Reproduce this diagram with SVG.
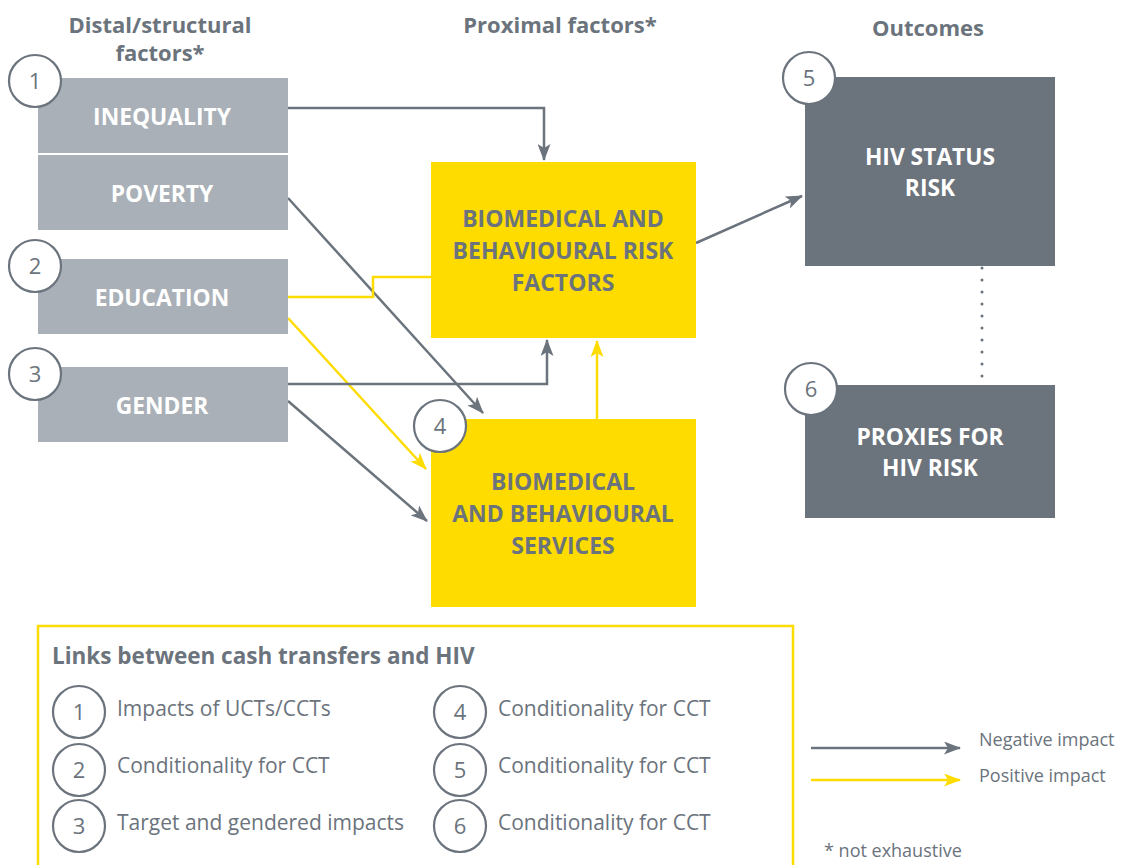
<svg xmlns="http://www.w3.org/2000/svg" width="1126" height="865" viewBox="0 0 1126 865">
<style>
.hdr{font-family:"Open Sans","Liberation Sans",sans-serif;font-weight:bold;font-size:22px;fill:#6b737c;text-anchor:middle}
.lbw{font-family:"Open Sans","Liberation Sans",sans-serif;font-weight:bold;font-size:22.8px;fill:#ffffff;text-anchor:middle}
.lbg{font-family:"Open Sans","Liberation Sans",sans-serif;font-weight:bold;font-size:23px;fill:#6b737c;text-anchor:middle}
.num{font-family:"Open Sans","Liberation Sans",sans-serif;font-size:22px;fill:#6b737c;text-anchor:middle}
.leg{font-family:"Open Sans","Liberation Sans",sans-serif;font-size:21px;fill:#6b737c}
.small{font-family:"Open Sans","Liberation Sans",sans-serif;font-size:18px;fill:#6b737c}
.circ{fill:#ffffff;stroke:#6b737c;stroke-width:2.2}
.dist{fill:#a9b0b7}
.prox{fill:#ffdc00}
.out{fill:#6b737c}
.neg{fill:none;stroke:#6b737c;stroke-width:2.5}
.pos{fill:none;stroke:#ffdc00;stroke-width:2.5}
</style>
<defs>
<marker id="ag" viewBox="0 0 17 13" refX="16" refY="6.5" markerWidth="17" markerHeight="13" markerUnits="userSpaceOnUse" orient="auto">
<path d="M0,0 L17,6.5 L0,13 L4,6.5 Z" fill="#6b737c"/>
</marker>
<marker id="ay" viewBox="0 0 17 13" refX="16" refY="6.5" markerWidth="17" markerHeight="13" markerUnits="userSpaceOnUse" orient="auto">
<path d="M0,0 L17,6.5 L0,13 L4,6.5 Z" fill="#ffdc00"/>
</marker>
</defs>
<rect width="1126" height="865" fill="#ffffff"/>

<text class="hdr" x="160" y="33">Distal/structural</text>
<text class="hdr" x="160" y="61">factors*</text>
<text class="hdr" x="560" y="33">Proximal factors*</text>
<text class="hdr" x="928" y="36">Outcomes</text>

<g id="connectors">
<path class="neg" d="M288,108 H544 V160" marker-end="url(#ag)"/>
<path class="neg" d="M288,198 L483,413" marker-end="url(#ag)"/>
<path class="pos" d="M288,297 H373 V277 H431"/>
<path class="pos" d="M288,318 L426,469" marker-end="url(#ay)"/>
<path class="neg" d="M288,384 H547 V340" marker-end="url(#ag)"/>
<path class="neg" d="M288,401 L427,521" marker-end="url(#ag)"/>
<path class="pos" d="M597,419 V341" marker-end="url(#ay)"/>
<path class="neg" d="M696,243 L802,196" marker-end="url(#ag)"/>
<path d="M982,268 V385" fill="none" stroke="#6b737c" stroke-width="3" stroke-linecap="round" stroke-dasharray="0 12"/>
</g>

<g id="inequality">
<rect class="dist" x="38" y="78" width="250" height="75"/>
<text class="lbw" x="162" y="125">INEQUALITY</text>
</g>
<g id="poverty">
<rect class="dist" x="38" y="155" width="250" height="75"/>
<text class="lbw" x="162" y="202">POVERTY</text>
</g>
<g id="education">
<rect class="dist" x="38" y="259" width="250" height="75"/>
<text class="lbw" x="162" y="306">EDUCATION</text>
</g>
<g id="gender">
<rect class="dist" x="38" y="367" width="250" height="75"/>
<text class="lbw" x="162" y="414">GENDER</text>
</g>
<g id="c1"><circle class="circ" cx="35" cy="81" r="26"/><text class="num" x="35" y="89">1</text></g>
<g id="c2"><circle class="circ" cx="35" cy="266" r="26"/><text class="num" x="35" y="274">2</text></g>
<g id="c3"><circle class="circ" cx="35" cy="374" r="26"/><text class="num" x="35" y="382">3</text></g>

<g id="riskfactors">
<rect class="prox" x="431" y="162" width="265" height="176"/>
<text class="lbg" x="563" y="227">BIOMEDICAL AND</text>
<text class="lbg" x="563" y="259">BEHAVIOURAL RISK</text>
<text class="lbg" x="563" y="291">FACTORS</text>
</g>
<g id="services">
<rect class="prox" x="431" y="419" width="265" height="188"/>
<text class="lbg" x="563" y="490">BIOMEDICAL</text>
<text class="lbg" x="563" y="522">AND BEHAVIOURAL</text>
<text class="lbg" x="563" y="554">SERVICES</text>
</g>
<g id="c4"><circle class="circ" cx="440" cy="426" r="26"/><text class="num" x="440" y="434">4</text></g>

<g id="hivstatus">
<rect class="out" x="805" y="77" width="250" height="189"/>
<text class="lbw" x="930" y="165">HIV STATUS</text>
<text class="lbw" x="930" y="196">RISK</text>
</g>
<g id="proxies">
<rect class="out" x="805" y="385" width="250" height="133"/>
<text class="lbw" x="930" y="445">PROXIES FOR</text>
<text class="lbw" x="930" y="476">HIV RISK</text>
</g>
<g id="c5"><circle class="circ" cx="809" cy="78" r="26"/><text class="num" x="809" y="86">5</text></g>
<g id="c6"><circle class="circ" cx="811" cy="389" r="26"/><text class="num" x="811" y="397">6</text></g>

<g id="legend">
<rect x="38" y="626" width="755" height="260" fill="none" stroke="#ffdc00" stroke-width="2.5"/>
<text class="hdr" x="52" y="664" style="text-anchor:start;font-size:22.5px">Links between cash transfers and HIV</text>
<circle class="circ" cx="79" cy="712" r="26"/><text class="num" x="79" y="720">1</text>
<circle class="circ" cx="79" cy="770" r="26"/><text class="num" x="79" y="778">2</text>
<circle class="circ" cx="79" cy="826" r="26"/><text class="num" x="79" y="834">3</text>
<text class="leg" x="117" y="716">Impacts of UCTs/CCTs</text>
<text class="leg" x="117" y="773">Conditionality for CCT</text>
<text class="leg" x="117" y="830">Target and gendered impacts</text>
<circle class="circ" cx="460" cy="712" r="26"/><text class="num" x="460" y="720">4</text>
<circle class="circ" cx="460" cy="770" r="26"/><text class="num" x="460" y="778">5</text>
<circle class="circ" cx="460" cy="826" r="26"/><text class="num" x="460" y="834">6</text>
<text class="leg" x="498" y="716">Conditionality for CCT</text>
<text class="leg" x="498" y="773">Conditionality for CCT</text>
<text class="leg" x="498" y="830">Conditionality for CCT</text>
<path class="neg" d="M811,748 H960" marker-end="url(#ag)"/>
<path class="pos" d="M811,780 H960" marker-end="url(#ay)"/>
<text class="small" x="979" y="746">Negative impact</text>
<text class="small" x="979" y="782">Positive impact</text>
<text class="small" x="824" y="857">* not exhaustive</text>
</g>
</svg>
